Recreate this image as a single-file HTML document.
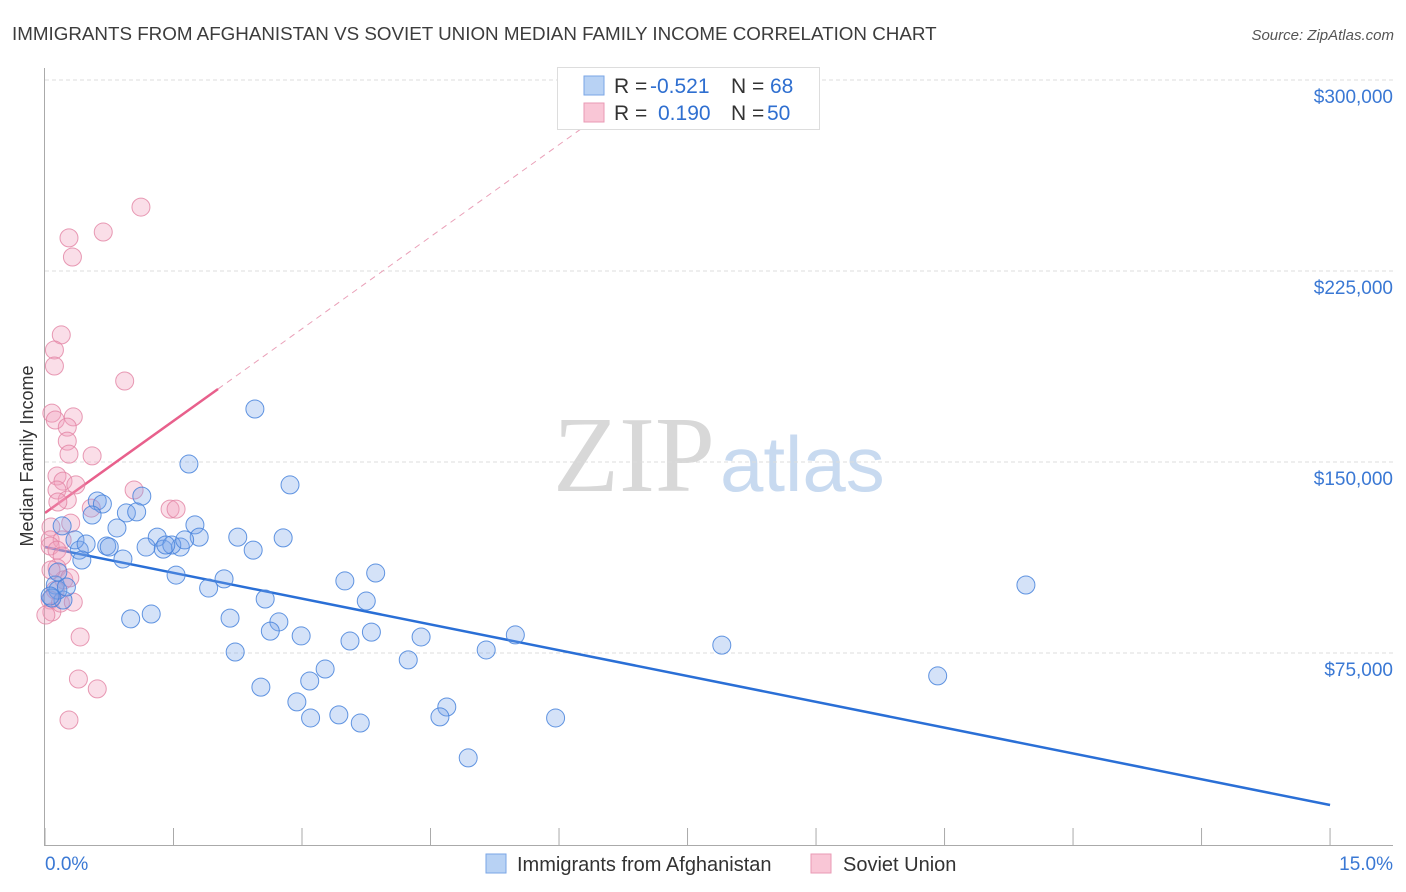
<!DOCTYPE html>
<html><head><meta charset="utf-8"><style>
body{margin:0;background:#fff;font-family:"Liberation Sans",sans-serif;}
svg{display:block}
</style></head><body>
<svg id="chart" width="1406" height="892" xmlns="http://www.w3.org/2000/svg">
<defs><clipPath id="plotclip"><rect x="45" y="68" width="1350" height="778"/></clipPath></defs>
<text x="12" y="40" font-size="18.8" fill="#3c3c3c">IMMIGRANTS FROM AFGHANISTAN VS SOVIET UNION MEDIAN FAMILY INCOME CORRELATION CHART</text>
<text x="1394" y="40" font-size="15" fill="#555" font-style="italic" text-anchor="end">Source: ZipAtlas.com</text>
<text x="33" y="456" font-size="18" fill="#333" text-anchor="middle" transform="rotate(-90 33 456)">Median Family Income</text>
<g>
<text x="553" y="491" font-size="108" fill="#d8d8d8" font-family="Liberation Serif,serif">ZIP</text>
<text x="720" y="491" font-size="78" fill="#c8daf0">atlas</text>
</g>
<g id="grid"></g>
<g id="axes"></g>
<g id="lines" clip-path="url(#plotclip)"></g>
<g id="pts"></g>
<g>
<rect x="557.5" y="67.5" width="262" height="62" fill="#fff" stroke="#ddd"/>
<rect x="584" y="76" width="20" height="19" fill="#b8d2f4" stroke="#7aa6e6"/>
<rect x="584" y="103" width="20" height="19" fill="#f9c6d6" stroke="#e99ab4"/>
<text font-size="21" y="93"><tspan x="614" fill="#333">R = </tspan><tspan x="650" fill="#2f6fd0">-0.521</tspan><tspan x="731" fill="#333">N = </tspan><tspan x="770" fill="#2f6fd0">68</tspan></text>
<text font-size="21" y="120"><tspan x="614" fill="#333">R = </tspan><tspan x="658" fill="#2f6fd0">0.190</tspan><tspan x="731" fill="#333">N = </tspan><tspan x="767" fill="#2f6fd0">50</tspan></text>
</g>
<g>
<rect x="486" y="854" width="20" height="19" fill="#b8d2f4" stroke="#7aa6e6"/>
<text x="517" y="871" font-size="20" fill="#333">Immigrants from Afghanistan</text>
<rect x="811" y="854" width="20" height="19" fill="#f9c6d6" stroke="#e99ab4"/>
<text x="843" y="871" font-size="20" fill="#333">Soviet Union</text>
</g>
</svg>
<script>
const yTicks=[75000,150000,225000,300000];
const yTickLabels=["$75,000","$150,000","$225,000","$300,000"];
const xTickLabels=["0.0%","15.0%"];
const blueX=[2.45,1.68,2.86,0.61,1.13,0.67,0.55,0.95,1.07,0.20,0.84,1.75,1.80,2.25,2.78,1.31,1.18,1.38,1.58,1.48,1.63,1.41,0.40,0.72,0.35,0.48,0.75,2.43,0.91,0.43,1.53,3.86,3.50,2.09,1.91,2.57,3.75,0.21,0.12,0.15,0.25,0.08,0.06,1.00,1.24,2.16,2.73,2.63,2.99,3.81,4.39,3.56,5.49,5.15,7.90,11.45,4.24,2.22,3.27,3.09,10.42,2.52,2.94,4.69,3.10,3.43,3.68,4.61,5.96,4.94,0.15];
const blueY=[170.8,149.2,141.0,134.7,136.6,133.5,129.2,130.0,130.4,124.9,124.1,125.3,120.5,120.5,120.2,120.5,116.6,115.8,116.6,117.4,119.4,117.4,115.4,117.0,119.4,117.8,116.6,115.4,111.9,111.5,105.6,106.4,103.3,104.1,100.5,96.2,95.4,95.8,101.7,99.7,100.9,96.6,97.4,88.4,90.3,88.7,87.2,83.6,81.7,83.2,81.3,79.7,82.1,76.2,78.1,101.7,72.3,75.4,68.7,64.0,66.0,61.6,55.8,53.8,49.5,50.7,47.5,49.9,49.5,33.8,106.8];
const pinkX=[1.12,0.68,0.28,0.32,0.19,0.11,0.11,0.93,0.08,0.33,0.12,0.26,0.26,0.55,0.28,0.14,0.21,0.14,0.36,0.26,0.15,1.04,1.46,1.53,0.54,0.30,0.07,0.06,0.20,0.06,0.14,0.20,0.14,0.22,0.29,0.12,0.06,0.08,0.18,0.33,0.01,0.41,0.39,0.61,0.28,0.07];
const pinkY=[250.1,240.3,238.0,230.5,199.9,194.0,187.7,181.8,169.2,167.7,166.5,163.7,158.2,152.4,153.1,144.5,142.5,139.0,141.0,135.1,134.3,139.0,131.5,131.5,131.9,126.0,124.5,119.4,119.4,117.0,115.4,113.1,108.4,103.7,104.5,99.7,95.8,91.1,94.6,95.0,89.9,81.3,64.8,60.9,48.7,107.6];
const blueTrend=[116.6,15.3];   // value at 0% and 15% (thousands)
const pinkTrend=[130.0,24.1];   // intercept and slope per %
const pinkSolidEnd=2.02;
const NS="http://www.w3.org/2000/svg";
const xS=v=>45+v*85.67;
const yS=v=>844-v*764/300;
function mk(tag,attrs,parent){const e=document.createElementNS(NS,tag);for(const k in attrs)e.setAttribute(k,attrs[k]);parent.appendChild(e);return e;}
const grid=document.getElementById('grid'),axes=document.getElementById('axes'),lines=document.getElementById('lines'),pts=document.getElementById('pts');
yTicks.forEach((t,i)=>{
 const y=yS(t/1000);
 const l=mk('line',{x1:45,x2:1393,y1:y,y2:y,stroke:'#ddd','stroke-dasharray':'4,3'},grid);
 
 
 const tx=mk('text',{x:1393,y:y+23,'font-size':19,fill:'#3a78d4','text-anchor':'end'},axes);
 tx.textContent=yTickLabels[i];
 
 
});
const ya=mk('line',{x1:44.5,x2:44.5,y1:68,y2:845,stroke:'#aaa'},axes);


const xa=mk('line',{x1:44,x2:1393,y1:845.5,y2:845.5,stroke:'#aaa'},axes);


for(let i=0;i<=10;i++){
 const x=xS(i*1.5);
 const t=mk('line',{x1:x,x2:x,y1:828,y2:845,stroke:'#aaa'},axes);
 
 
}
[[0,'start',45],[15,'end',1393]].forEach((d,i)=>{
 const t=mk('text',{x:d[2],y:870,'font-size':19,fill:'#3a78d4','text-anchor':d[1]},axes);
 t.textContent=xTickLabels[i];
 
 
});
function dot(x,y,fill,stroke,name){
 const c=mk('circle',{cx:xS(x),cy:yS(y),r:9,fill:fill,stroke:stroke,'stroke-width':1},pts);
 
 
}
pinkX.forEach((x,i)=>dot(x,pinkY[i],'rgba(242,160,188,0.35)','rgba(226,130,162,0.8)','soviet-union-point'));
blueX.forEach((x,i)=>dot(x,blueY[i],'rgba(120,165,232,0.32)','rgba(70,130,220,0.85)','afghanistan-point'));
const bl=mk('line',{x1:xS(0),y1:yS(blueTrend[0]),x2:xS(15),y2:yS(blueTrend[1]),stroke:'#2a6fd6','stroke-width':2.5},lines);


const pv=x=>pinkTrend[0]+pinkTrend[1]*x;
const ps=mk('line',{x1:xS(0),y1:yS(pv(0)),x2:xS(pinkSolidEnd),y2:yS(pv(pinkSolidEnd)),stroke:'#e8608c','stroke-width':2.5},lines);


const xEnd=(300*1.0-pinkTrend[0])/pinkTrend[1]+0.8;
const pd=mk('line',{x1:xS(pinkSolidEnd),y1:yS(pv(pinkSolidEnd)),x2:xS(xEnd),y2:yS(pv(xEnd)),stroke:'#eaa0b8','stroke-width':1,'stroke-dasharray':'6,5'},lines);


</script>
</body></html>
